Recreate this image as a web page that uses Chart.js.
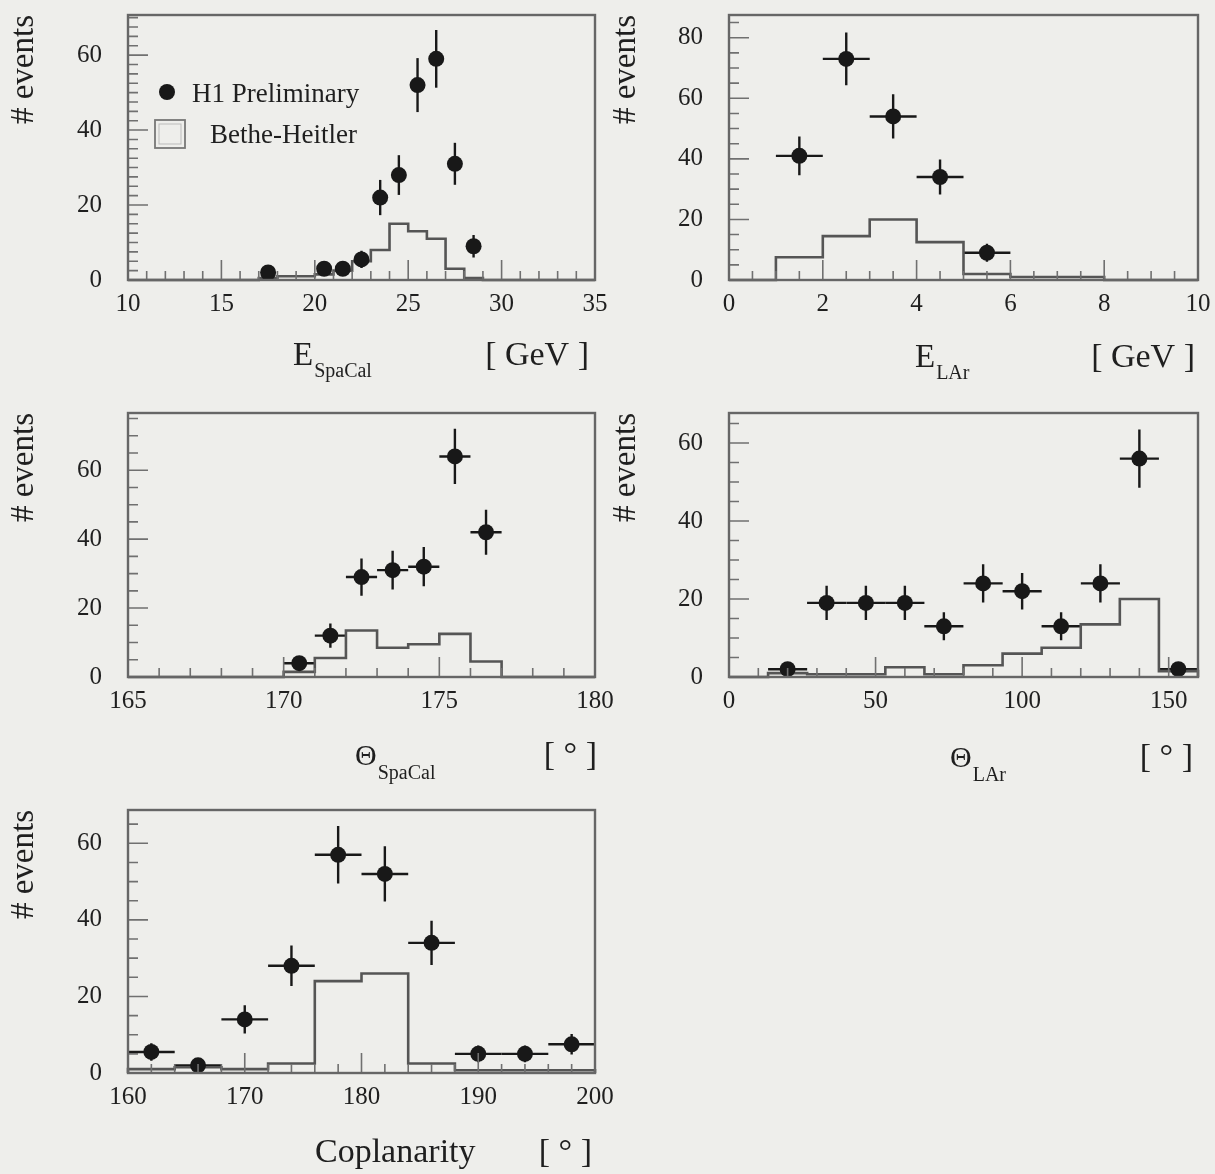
<!DOCTYPE html>
<html>
<head>
<meta charset="utf-8">
<script src="https://cdn.jsdelivr.net/npm/chart.js@4.4.1/dist/chart.umd.min.js"></script>
<style>
html,body{margin:0;padding:0;background:#eeeeeb;width:1215px;height:1174px;overflow:hidden;}
canvas{position:absolute;}
</style>
</head>
<body>
<canvas id="p1" width="620" height="395" style="left:0;top:0"></canvas>
<canvas id="p2" width="610" height="395" style="left:605px;top:0"></canvas>
<canvas id="p3" width="620" height="395" style="left:0;top:398px"></canvas>
<canvas id="p4" width="610" height="395" style="left:605px;top:398px"></canvas>
<canvas id="p5" width="620" height="379" style="left:0;top:795px"></canvas>
<script>
// ---------------- DATA ----------------
// Panel 1: E_SpaCal [GeV]
const eSpaCalCenters = [17.5, 20.5, 21.5, 22.5, 23.5, 24.5, 25.5, 26.5, 27.5, 28.5];
const eSpaCalEvents  = [2, 3, 3, 5.5, 22, 28, 52, 59, 31, 9];
const eSpaCalErrors  = [1.4, 1.7, 1.7, 2.3, 4.7, 5.3, 7.2, 7.7, 5.6, 3.0];
const eSpaCalBH      = [0, 0, 0, 0, 0, 0, 0, 0.5, 1, 1, 1.5, 2.5, 5, 8, 15, 13, 11, 3, 0.5, 0, 0, 0, 0, 0, 0];
const eSpaCalBinStart = 10, eSpaCalBinWidth = 1, eSpaCalXErr = 0;
const eSpaCalXTicks = [10, 15, 20, 25, 30, 35];
const eSpaCalYTicks = [0, 20, 40, 60];

// Panel 2: E_LAr [GeV]
const eLArCenters = [1.5, 2.5, 3.5, 4.5, 5.5];
const eLArEvents  = [41, 73, 54, 34, 9];
const eLArErrors  = [6.4, 8.7, 7.3, 5.8, 3.0];
const eLArBH      = [0, 7.5, 14.5, 20, 12.5, 2, 1, 1, 0, 0];
const eLArBinStart = 0, eLArBinWidth = 1, eLArXErr = 0.5;
const eLArXTicks = [0, 2, 4, 6, 8, 10];
const eLArYTicks = [0, 20, 40, 60, 80];

// Panel 3: Theta_SpaCal [deg]
const thSpaCalCenters = [170.5, 171.5, 172.5, 173.5, 174.5, 175.5, 176.5];
const thSpaCalEvents  = [4, 12, 29, 31, 32, 64, 42];
const thSpaCalErrors  = [2.0, 3.5, 5.4, 5.6, 5.7, 8.0, 6.5];
const thSpaCalBH      = [0, 0, 0, 0, 0, 1.5, 5.5, 13.5, 8.5, 9.5, 12.5, 4.5, 0, 0, 0];
const thSpaCalBinStart = 165, thSpaCalBinWidth = 1, thSpaCalXErr = 0.5;
const thSpaCalXTicks = [165, 170, 175, 180];
const thSpaCalYTicks = [0, 20, 40, 60];

// Panel 4: Theta_LAr [deg]
const thLArCenters = [20, 33.3, 46.7, 60, 73.3, 86.7, 100, 113.3, 126.7, 140, 153.3];
const thLArEvents  = [2, 19, 19, 19, 13, 24, 22, 13, 24, 56, 2];
const thLArErrors  = [1.4, 4.4, 4.4, 4.4, 3.6, 4.9, 4.7, 3.6, 4.9, 7.5, 1.4];
const thLArBH      = [0, 1, 0.7, 0.7, 2.5, 0.7, 3, 6, 7.5, 13.5, 20, 1.5];
const thLArBinStart = 0, thLArBinWidth = 13.333, thLArXErr = 6.667;
const thLArXTicks = [0, 50, 100, 150];
const thLArYTicks = [0, 20, 40, 60];

// Panel 5: Coplanarity [deg]
const coplCenters = [162, 166, 170, 174, 178, 182, 186, 190, 194, 198];
const coplEvents  = [5.5, 2, 14, 28, 57, 52, 34, 5, 5, 7.5];
const coplErrors  = [2.3, 1.4, 3.7, 5.3, 7.5, 7.2, 5.8, 2.2, 2.2, 2.7];
const coplBH      = [1, 1.5, 1, 2.5, 24, 26, 2.5, 0.7, 0.7, 0.7];
const coplBinStart = 160, coplBinWidth = 4, coplXErr = 2;
const coplXTicks = [160, 170, 180, 190, 200];
const coplYTicks = [0, 20, 40, 60];

const legendLabels = ['H1 Preliminary', 'Bethe-Heitler'];
const yTitle = '# events';

// ---------------- STYLE ----------------
const FONT = "'Liberation Serif', 'Times New Roman', serif";
const INK = '#1f1f1f';
const MARK = '#181818';
const HISTC = '#555555';
const FRAME = '#666666';

function histPoints(vals, start, width) {
  const pts = [{x: start, y: 0}];
  vals.forEach((v, i) => pts.push({x: start + i * width, y: v}));
  const end = start + vals.length * width;
  pts.push({x: end, y: vals[vals.length - 1]});
  pts.push({x: end, y: 0});
  return pts;
}

const deco = {
  id: 'deco',
  beforeDatasetsDraw(chart, args, o) {
    const {ctx, scales: {x, y}} = chart;
    const ds = chart.data.datasets[0];
    ctx.save();
    ctx.strokeStyle = MARK; ctx.lineWidth = 2.4;
    ds.data.forEach((p, i) => {
      const px = x.getPixelForValue(p.x), py = y.getPixelForValue(p.y);
      const e = ds.yErr[i];
      ctx.beginPath();
      ctx.moveTo(px, y.getPixelForValue(p.y - e));
      ctx.lineTo(px, y.getPixelForValue(p.y + e));
      if (ds.xErr) {
        ctx.moveTo(x.getPixelForValue(p.x - ds.xErr), py);
        ctx.lineTo(x.getPixelForValue(p.x + ds.xErr), py);
      }
      ctx.stroke();
    });
    ctx.restore();
  },
  afterDraw(chart, args, o) {
    const {ctx, chartArea: ca, scales: {x, y}} = chart;
    ctx.save();
    // inner ticks
    ctx.strokeStyle = '#707070'; ctx.lineWidth = 1.6;
    ctx.beginPath();
    const nx = Math.round((x.max - x.min) / o.xMinor);
    for (let k = 0; k <= nx; k++) {
      const v = x.min + k * o.xMinor;
      const len = (k % o.xPer === 0) ? 20 : 9;
      const px = x.getPixelForValue(v);
      ctx.moveTo(px, ca.bottom); ctx.lineTo(px, ca.bottom - len);
    }
    const ny = Math.floor((y.max - y.min) / o.yMinor + 1e-6);
    for (let k = 0; k <= ny; k++) {
      const v = y.min + k * o.yMinor;
      const len = (k % o.yPer === 0) ? 20 : 10;
      const py = y.getPixelForValue(v);
      ctx.moveTo(ca.left, py); ctx.lineTo(ca.left + len, py);
    }
    ctx.stroke();
    // frame
    ctx.strokeStyle = FRAME; ctx.lineWidth = 2.4;
    ctx.strokeRect(ca.left, ca.top, ca.right - ca.left, ca.bottom - ca.top);
    // x title
    ctx.fillStyle = INK; ctx.textBaseline = 'alphabetic';
    const t = o.xTitle;
    const bx = ca.left + t.dx, by = ca.bottom + t.dy;
    ctx.font = t.mainSize + 'px ' + FONT; ctx.textAlign = 'left';
    ctx.fillText(t.main, bx, by);
    if (t.sub) {
      const w = ctx.measureText(t.main).width;
      ctx.font = t.subSize + 'px ' + FONT;
      ctx.fillText(t.sub, bx + w + 1, by + t.subDy);
    }
    ctx.font = '34px ' + FONT; ctx.textAlign = 'right';
    ctx.fillText(t.unit, ca.right + t.unitDx, by);
    // legend
    if (o.legend) {
      const lx = ca.left, ly = ca.top;
      ctx.fillStyle = MARK;
      ctx.beginPath(); ctx.arc(lx + 39, ly + 77, 8, 0, Math.PI * 2); ctx.fill();
      ctx.fillStyle = INK; ctx.font = '27px ' + FONT; ctx.textAlign = 'left';
      ctx.fillText(legendLabels[0], lx + 64, ly + 87);
      ctx.strokeStyle = '#777'; ctx.lineWidth = 1.8;
      ctx.strokeRect(lx + 27, ly + 105, 30, 28);
      ctx.strokeStyle = '#bbb'; ctx.lineWidth = 1;
      ctx.strokeRect(lx + 31, ly + 109, 22, 20);
      ctx.fillText(legendLabels[1], lx + 82, ly + 128);
    }
    ctx.restore();
  }
};

function makePanel(id, P) {
  const pts = P.centers.map((c, i) => ({x: c, y: P.events[i]}));
  new Chart(document.getElementById(id), {
    type: 'line',
    data: {
      datasets: [
        {data: pts, showLine: false, pointRadius: 8, pointBackgroundColor: MARK,
         pointBorderColor: MARK, pointBorderWidth: 0, clip: false,
         yErr: P.errors, xErr: P.xErr},
        {data: histPoints(P.bh, P.binStart, P.binWidth), stepped: true, borderColor: HISTC,
         borderWidth: 2.6, pointRadius: 0, fill: false, clip: false}
      ]
    },
    options: {
      responsive: false, animation: false, events: [],
      layout: {padding: {left: 0, top: 15, right: P.padRight, bottom: 0}},
      plugins: {legend: {display: false}, tooltip: {enabled: false}, deco: P.deco},
      scales: {
        x: {
          type: 'linear', min: P.xMin, max: P.xMax,
          grid: {display: false, drawTicks: false}, border: {display: false},
          afterBuildTicks: s => { s.ticks = P.xTicks.map(v => ({value: v})); },
          afterFit: s => { s.height = P.xHeight; s.paddingLeft = 0; s.paddingRight = 0; },
          ticks: {font: {family: FONT, size: 25}, color: INK, padding: 9, maxRotation: 0, autoSkip: false}
        },
        y: {
          type: 'linear', min: 0, max: P.yMax,
          grid: {display: false, drawTicks: false}, border: {display: false},
          afterBuildTicks: s => { s.ticks = P.yTicks.map(v => ({value: v})); },
          afterFit: s => { s.width = P.yWidth; s.paddingTop = 0; s.paddingBottom = 0; },
          ticks: {font: {family: FONT, size: 25}, color: INK, padding: 26},
          title: {display: true, text: yTitle, align: 'end', color: INK,
                  font: {family: FONT, size: 33}, padding: {top: P.yTitlePad, bottom: 0}}
        }
      }
    },
    plugins: [deco]
  });
}

makePanel('p1', {
  centers: eSpaCalCenters, events: eSpaCalEvents, errors: eSpaCalErrors, xErr: eSpaCalXErr,
  bh: eSpaCalBH, binStart: eSpaCalBinStart, binWidth: eSpaCalBinWidth,
  xMin: 10, xMax: 35, yMax: 70.7, xTicks: eSpaCalXTicks, yTicks: eSpaCalYTicks,
  padRight: 25, xHeight: 115, yWidth: 128, yTitlePad: 5,
  deco: {xMinor: 1, xPer: 5, yMinor: 2.5, yPer: 8, legend: true,
         xTitle: {main: 'E', sub: 'SpaCal', mainSize: 33, subSize: 20, subDy: 12, dx: 165, dy: 85, unit: '[ GeV ]', unitDx: -6}}
});
makePanel('p2', {
  centers: eLArCenters, events: eLArEvents, errors: eLArErrors, xErr: eLArXErr,
  bh: eLArBH, binStart: eLArBinStart, binWidth: eLArBinWidth,
  xMin: 0, xMax: 10, yMax: 87.5, xTicks: eLArXTicks, yTicks: eLArYTicks,
  padRight: 17, xHeight: 115, yWidth: 124, yTitlePad: 2,
  deco: {xMinor: 0.5, xPer: 4, yMinor: 5, yPer: 4, legend: false,
         xTitle: {main: 'E', sub: 'LAr', mainSize: 33, subSize: 20, subDy: 12, dx: 186, dy: 87, unit: '[ GeV ]', unitDx: -3}}
});
makePanel('p3', {
  centers: thSpaCalCenters, events: thSpaCalEvents, errors: thSpaCalErrors, xErr: thSpaCalXErr,
  bh: thSpaCalBH, binStart: thSpaCalBinStart, binWidth: thSpaCalBinWidth,
  xMin: 165, xMax: 180, yMax: 76.6, xTicks: thSpaCalXTicks, yTicks: thSpaCalYTicks,
  padRight: 25, xHeight: 116, yWidth: 128, yTitlePad: 5,
  deco: {xMinor: 1, xPer: 5, yMinor: 5, yPer: 4, legend: false,
         xTitle: {main: 'Θ', sub: 'SpaCal', mainSize: 30, subSize: 20, subDy: 14, dx: 227, dy: 88, unit: '[ ° ]', unitDx: 2}}
});
makePanel('p4', {
  centers: thLArCenters, events: thLArEvents, errors: thLArErrors, xErr: thLArXErr,
  bh: thLArBH, binStart: thLArBinStart, binWidth: thLArBinWidth,
  xMin: 0, xMax: 160, yMax: 67.7, xTicks: thLArXTicks, yTicks: thLArYTicks,
  padRight: 17, xHeight: 116, yWidth: 124, yTitlePad: 2,
  deco: {xMinor: 10, xPer: 5, yMinor: 5, yPer: 4, legend: false,
         xTitle: {main: 'Θ', sub: 'LAr', mainSize: 30, subSize: 20, subDy: 14, dx: 221, dy: 90, unit: '[ ° ]', unitDx: -5}}
});
makePanel('p5', {
  centers: coplCenters, events: coplEvents, errors: coplErrors, xErr: coplXErr,
  bh: coplBH, binStart: coplBinStart, binWidth: coplBinWidth,
  xMin: 160, xMax: 200, yMax: 68.7, xTicks: coplXTicks, yTicks: coplYTicks,
  padRight: 25, xHeight: 101, yWidth: 128, yTitlePad: 5,
  deco: {xMinor: 2, xPer: 5, yMinor: 5, yPer: 4, legend: false,
         xTitle: {main: 'Coplanarity', sub: '', mainSize: 34, subSize: 20, subDy: 0, dx: 187, dy: 89, unit: '[ ° ]', unitDx: -3}}
});
</script>
</body>
</html>
